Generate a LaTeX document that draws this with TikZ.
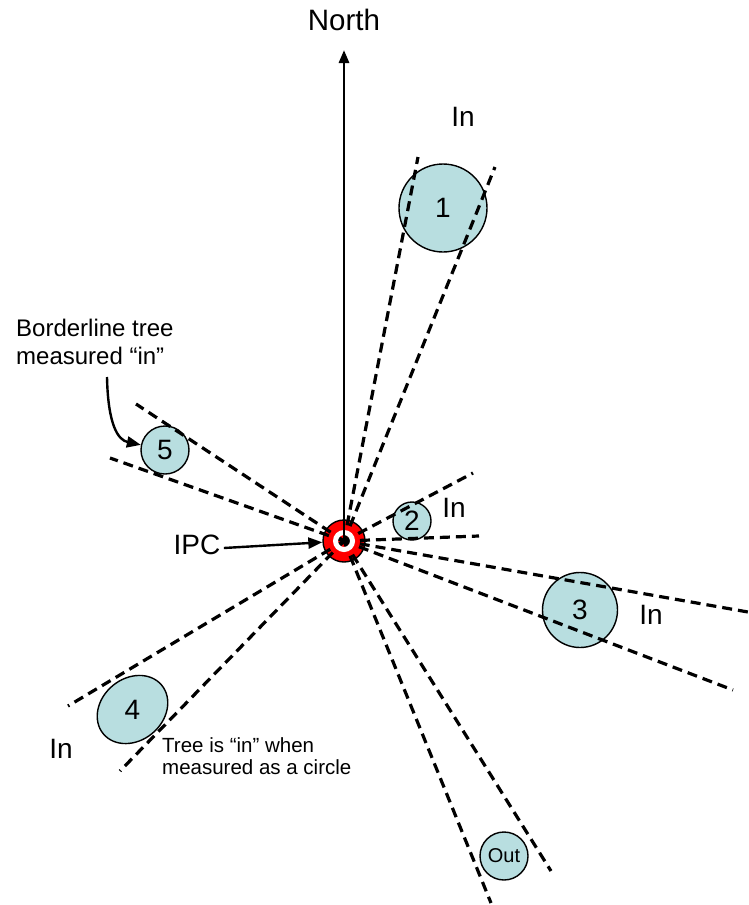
\documentclass[tikz,border=0pt]{standalone}
\usepackage{fontspec}
\setmainfont{Liberation Sans}
\usetikzlibrary{arrows.meta,shapes.geometric}
\definecolor{treefill}{RGB}{184,222,224}
\begin{document}
\begin{tikzpicture}[x=1pt,y=-1pt,
  tree/.style={draw=black,line width=1.4pt,fill=treefill,inner sep=0pt},
  sight/.style={draw=black,line width=3.2pt,dash pattern=on 10pt off 6pt},
  lbl/.style={font=\fontsize{28}{33}\selectfont},
  note/.style={font=\fontsize{24}{28}\selectfont,align=left,inner sep=2pt,anchor=west},
  smallnote/.style={font=\fontsize{20.5}{22}\selectfont,align=left,inner sep=2pt,anchor=west},
  pointer/.style={line width=2.4pt,-{Triangle[length=14pt,width=11pt]}}
]
\useasboundingbox (0,0) rectangle (748,905);

% trees
\node[tree,circle,minimum size=88pt,lbl] (t1) at (443,208) {1};
\node[tree,circle,minimum size=38pt,lbl] (t2) at (412,521) {2};
\node[tree,circle,minimum size=75pt,lbl] (t3) at (580,610) {3};
\node[tree,ellipse,minimum width=76pt,minimum height=62pt,rotate=40] (t4) at (132.5,709.5) {};
\node[lbl] (t4num) at (t4.center) {4};
\node[tree,circle,minimum size=48pt,lbl] (t5) at (165,450) {5};
\node[tree,circle,minimum size=48pt,font=\fontsize{20}{24}\selectfont] (tout) at (504,856) {Out};

% plot centre
\node[circle,fill=red,draw=black,line width=1.4pt,minimum size=42pt,inner sep=0pt] (ipc) at (344,541) {};

% ends of the sight lines
\coordinate (a1) at (418,157);
\coordinate (b1) at (495,167);
\coordinate (a2) at (473,473);
\coordinate (b2) at (479,536);
\coordinate (a3) at (748,612);
\coordinate (b3) at (733,690);
\coordinate (a4) at (68,706);
\coordinate (b4) at (120,771);
\coordinate (a5) at (136,404);
\coordinate (b5) at (110,458);
\coordinate (ao) at (491,903);
\coordinate (bo) at (551,871);

\foreach \e in {a1,b1,a2,b2,a3,b3,a4,b4,a5,b5,ao,bo}
  \draw[sight] (ipc.center) -- (\e);

% white ring of the centre marker
\draw[white,line width=5pt] (ipc.center) circle[radius=8.5];

% north arrow
\coordinate (northtip) at (344,50);
\draw[line width=2.8pt,-{Triangle[length=13pt,width=10pt]}] (ipc.center) -- (northtip);
\node[font=\fontsize{29.5}{33}\selectfont] (north) at (344,20) {North};

% in labels
\node[lbl] (in1) at (463,117) {In};
\node[lbl] (in2) at (454,508) {In};
\node[lbl] (in3) at (651,615) {In};
\node[lbl] (in4) at (61,749) {In};

% IPC label
\node[lbl] (ipctext) at (197,545) {IPC};
\draw[pointer] ([yshift=-3pt]ipctext.east) -- (ipc);

% notes
\node[note] (bl) at (14,342) {Borderline tree\\measured “in”};
\coordinate (blfoot) at (107,377);
\draw[pointer] (blfoot) .. controls (108,425) and (118,440) .. (t5);

\node[smallnote] (circnote) at (160,756) {Tree is “in” when\\measured as a circle};
\end{tikzpicture}
\end{document}
